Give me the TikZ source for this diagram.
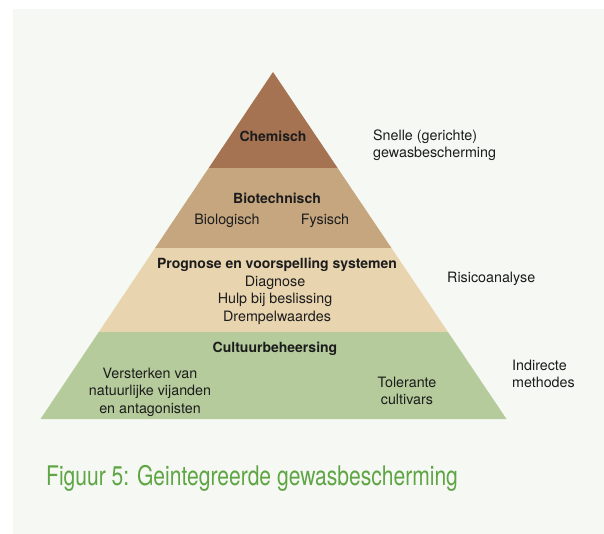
\documentclass[tikz,border=0pt]{standalone}
\usepackage{fontspec}
\setmainfont{TeX Gyre Heros}
\newfontfamily\capfont[FakeStretch=0.78]{TeX Gyre Heros}
\usetikzlibrary{positioning}
\definecolor{panel}{HTML}{F6F8F3}
\definecolor{chem}{HTML}{A67352}
\definecolor{biot}{HTML}{C5A67F}
\definecolor{progn}{HTML}{E8D4AF}
\definecolor{cult}{HTML}{B5CB9B}
\definecolor{capgreen}{HTML}{5EA544}
\definecolor{ink}{HTML}{1C1C1C}
\tikzset{
  lab/.style={text=ink,font=\fontsize{14.3}{17.5}\selectfont,align=center,inner sep=0pt},
  head/.style={lab,font=\fontsize{14}{17.5}\selectfont\bfseries},
  side/.style={lab,align=left,anchor=west},
}

\begin{document}
\begin{tikzpicture}[x=1pt,y=-1pt,node distance=17.5pt,on grid]
  \useasboundingbox (0,0) rectangle (604,534);
  \fill[panel] (13,9) rectangle (604,534);
  \coordinate (apex) at (273,72);
  \coordinate (bl) at (40.5,419);
  \coordinate (br) at (506.5,419);
  % pyramid tiers
  \begin{scope}
    \clip (apex) -- (bl) -- (br) -- cycle;
    \fill[chem] (0,60) rectangle (604,168);
    \fill[biot] (0,168) rectangle (604,248);
    \fill[progn] (0,248) rectangle (604,331.5);
    \fill[cult] (0,331.5) rectangle (604,430);
  \end{scope}
  \node[head] (chem) at (273,136) {Chemisch};
  \node[side] (snel) at (373,145) {Snelle (gerichte)\\gewasbescherming};
  \node[head] (biot) at (277,198) {Biotechnisch};
  \node[lab] (biol) at (227,221) {Biologisch};
  \node[lab] (fys) at (325,221) {Fysisch};
  \node[head] (prog) at (277,265) {Prognose en voorspelling systemen};
  \node[lab] (diag) [below=of prog,xshift=-2pt] {Diagnose};
  \node[lab] (hulp) [below=of diag] {Hulp bij beslissing};
  \node[lab] (drem) [below=of hulp,xshift=2pt] {Drempelwaardes};
  \node[side] (risico) at (447,279) {Risicoanalyse};
  \node[head] (cult) at (275,349) {Cultuurbeheersing};
  \node[lab] (verst) at (150,392) {Versterken van\\natuurlijke vijanden\\en antagonisten};
  \node[lab] (toler) at (407,391) {Tolerante\\cultivars};
  \node[side] (indir) at (512,374) {Indirecte\\methodes};
  % caption
  \node[anchor=west,inner sep=0pt,text=capgreen,font=\capfont\fontsize{27}{30}\selectfont] (fig) at (46,478) {Figuur 5: Geintegreerde gewasbescherming};
\end{tikzpicture}
\end{document}
